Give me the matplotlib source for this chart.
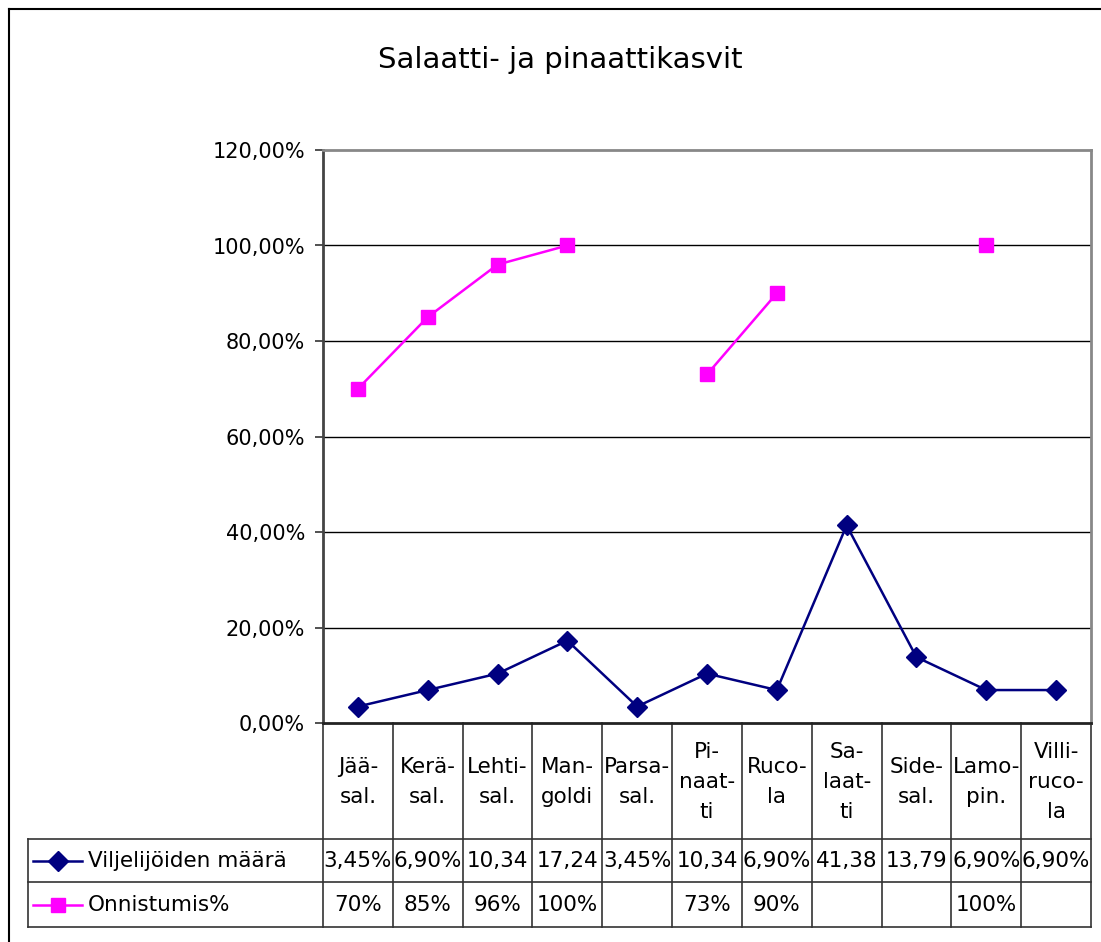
import numpy as np
import matplotlib.pyplot as plt
from matplotlib.lines import Line2D
from matplotlib.ticker import FuncFormatter

plt.rcParams['font.family'] = ['DejaVu Sans']

categories = ["Jää-\nsal.", "Kerä-\nsal.", "Lehti-\nsal.", "Man-\ngoldi", "Parsa-\nsal.",
              "Pi-\nnaat-\nti", "Ruco-\nla", "Sa-\nlaat-\nti", "Side-\nsal.", "Lamo-\npin.",
              "Villi-\nruco-\nla"]
viljelijat = [3.45, 6.90, 10.34, 17.24, 3.45, 10.34, 6.90, 41.38, 13.79, 6.90, 6.90]
onnistumis = [70, 85, 96, 100, np.nan, 73, 90, np.nan, np.nan, 100, np.nan]
# table cells as Excel shows them (cut to fit the column)
viljelijat_txt = ["3,45%", "6,90%", "10,34", "17,24", "3,45%", "10,34", "6,90%",
                  "41,38", "13,79", "6,90%", "6,90%"]
onnistumis_txt = ["70%", "85%", "96%", "100%", "", "73%", "90%", "", "", "100%", ""]
series_names = ["Viljelijöiden määrä", "Onnistumis%"]
yticks = [0, 20, 40, 60, 80, 100, 120]

W, H = 1101, 942
NAVY = '#000080'
MAGENTA = '#FF00FF'
FS = 15.5
LW = 1.8

fig = plt.figure(figsize=(W / 100, H / 100), dpi=100)

# plot area in pixels
left, right, top, bottom = 323, 1091, 150, 723
ax = fig.add_axes([left / W, 1 - bottom / H, (right - left) / W, (bottom - top) / H])

x = np.arange(len(categories))
ax.plot(x, viljelijat, color=NAVY, lw=LW, marker='D', markersize=10.5, zorder=3)
ax.plot(x, onnistumis, color=MAGENTA, lw=LW, marker='s', markersize=10.5, zorder=3)

ax.set_xlim(-0.5, len(categories) - 0.5)
ax.set_ylim(0, 120)
ax.set_yticks(yticks)
ax.yaxis.set_major_formatter(FuncFormatter(lambda v, p: f"{v:.2f}%".replace('.', ',')))
ax.tick_params(axis='y', length=6, width=1.2, pad=7, labelsize=15, color='#333333')
ax.set_xticks([])
for y in yticks[1:-1]:
    ax.axhline(y, color='black', lw=1, zorder=1)

ax.spines['top'].set_color('#888888')
ax.spines['right'].set_color('#888888')
ax.spines['top'].set_linewidth(2)
ax.spines['right'].set_linewidth(2)
ax.spines['left'].set_color('#444444')
ax.spines['left'].set_linewidth(2)
ax.spines['bottom'].set_color('#222222')
ax.spines['bottom'].set_linewidth(2)

fig.text(560 / W, 1 - 60 / H, "Salaatti- ja pinaattikasvit", ha='center', va='center',
         fontsize=21)

# data table under the plot
ph = bottom - top
def ya(py):
    return (bottom - py) / ph

trans = ax.get_xaxis_transform()
row1, row2, row3 = 839, 882, 927
tl = dict(color='#333333', lw=1.2, clip_on=False, transform=trans)
for i in range(len(categories) + 1):
    ax.add_line(Line2D([i - 0.5, i - 0.5], [0, ya(row3)], **tl))
colw = (right - left) / len(categories)
leg_x = -0.5 - (left - 28) / colw
for yy in (row1, row2, row3):
    ax.add_line(Line2D([leg_x, len(categories) - 0.5], [ya(yy), ya(yy)], **tl))
ax.add_line(Line2D([leg_x, leg_x], [ya(row1), ya(row3)], **tl))

for i, lab in enumerate(categories):
    ax.text(i, ya(782), lab, transform=trans, ha='center', va='center',
            fontsize=FS, linespacing=1.6)
    ax.text(i, ya(861), viljelijat_txt[i], transform=trans, ha='center', va='center',
            fontsize=FS)
    ax.text(i, ya(905), onnistumis_txt[i], transform=trans, ha='center', va='center',
            fontsize=FS)

# legend keys in the table
for yy, name, col, mk in ((861, series_names[0], NAVY, 'D'), (905, series_names[1], MAGENTA, 's')):
    fy = 1 - yy / H
    fig.add_artist(Line2D([33 / W, 82 / W], [fy, fy], color=col, lw=LW,
                          transform=fig.transFigure))
    fig.add_artist(Line2D([57.5 / W], [fy], color=col, marker=mk, markersize=10.5,
                          transform=fig.transFigure))
    fig.text(88 / W, fy, name, ha='left', va='center', fontsize=FS)

# outer chart border (right and bottom fall outside the picture)
fig.add_artist(Line2D([8.5 / W, 8.5 / W], [1 - 9 / H, 0], color='black', lw=1.5,
                      transform=fig.transFigure))
fig.add_artist(Line2D([8.5 / W, 1], [1 - 9 / H, 1 - 9 / H], color='black', lw=1.5,
                      transform=fig.transFigure))

fig.savefig('out.png', dpi=100)
